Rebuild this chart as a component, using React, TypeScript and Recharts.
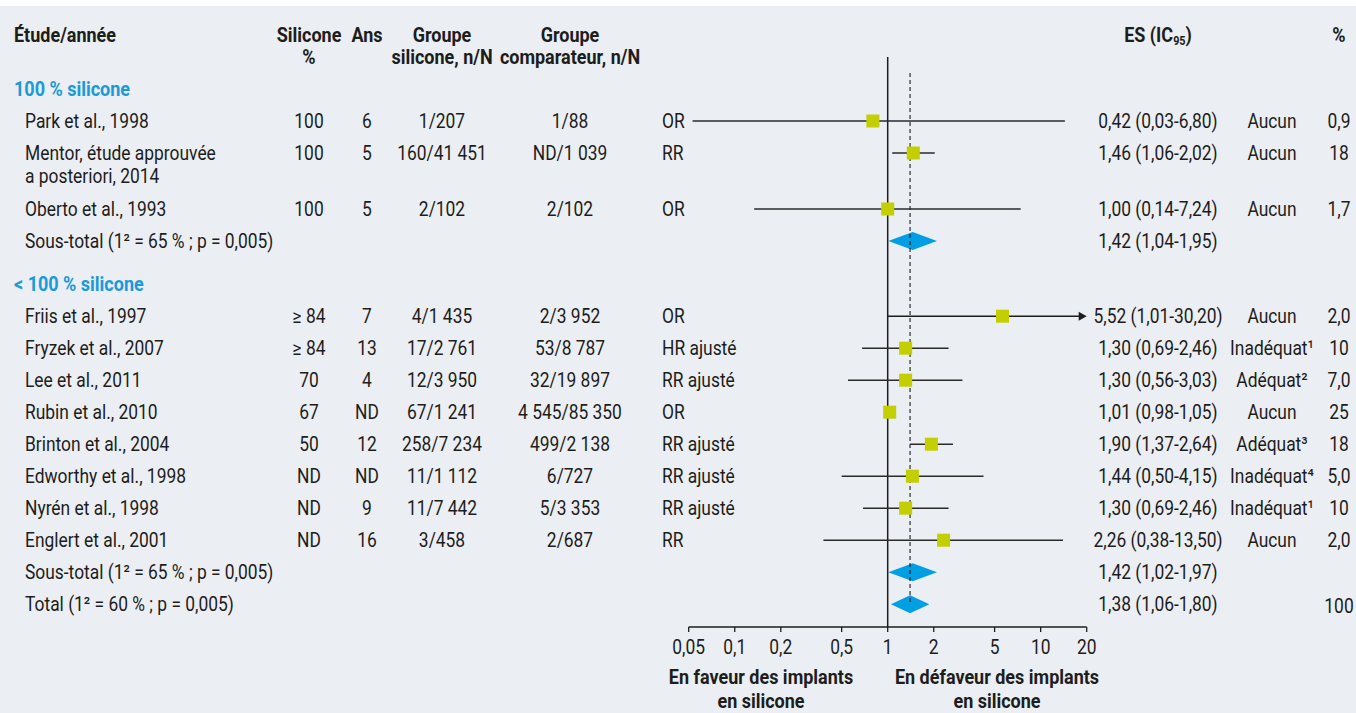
import React from "react";
import { ComposedChart, XAxis, YAxis, Scatter, ReferenceLine, ReferenceArea } from "recharts";

const W = 1356;
const H = 713;
const FONT = "Roboto, 'Liberation Sans', sans-serif";
const FS = 20;
const SX = 0.87; // police étroite simulée
const SX_BOLD = 0.9;
const INK = "#1d1d1b";
const BG = "#ebeef3";
const GREEN = "#c3cf00";
const BLUE = "#009fe3";
const TITLE_BLUE = "#1a9ad8";

// études
const studies = [
  "Park et al., 1998",
  "Mentor, étude approuvée\na posteriori, 2014",
  "Oberto et al., 1993",
  "Friis et al., 1997",
  "Fryzek et al., 2007",
  "Lee et al., 2011",
  "Rubin et al., 2010",
  "Brinton et al., 2004",
  "Edworthy et al., 1998",
  "Nyrén et al., 1998",
  "Englert et al., 2001",
];
const studyGroup = [0, 0, 0, 1, 1, 1, 1, 1, 1, 1, 1];
const siliconePct = ["100", "100", "100", "≥ 84", "≥ 84", "70", "67", "50", "ND", "ND", "ND"];
const years = ["6", "5", "5", "7", "13", "4", "ND", "12", "ND", "9", "16"];
const siliconeArm = ["1/207", "160/41 451", "2/102", "4/1 435", "17/2 761", "12/3 950", "67/1 241", "258/7 234", "11/1 112", "11/7 442", "3/458"];
const comparatorArm = ["1/88", "ND/1 039", "2/102", "2/3 952", "53/8 787", "32/19 897", "4 545/85 350", "499/2 138", "6/727", "5/3 353", "2/687"];
const measure = ["OR", "RR", "OR", "OR", "HR ajusté", "RR ajusté", "OR", "RR ajusté", "RR ajusté", "RR ajusté", "RR"];
const esText = [
  "0,42 (0,03-6,80)", "1,46 (1,06-2,02)", "1,00 (0,14-7,24)", "5,52 (1,01-30,20)", "1,30 (0,69-2,46)",
  "1,30 (0,56-3,03)", "1,01 (0,98-1,05)", "1,90 (1,37-2,64)", "1,44 (0,50-4,15)", "1,30 (0,69-2,46)", "2,26 (0,38-13,50)",
];
const adjustment = ["Aucun", "Aucun", "Aucun", "Aucun", "Inadéquat¹", "Adéquat²", "Aucun", "Adéquat³", "Inadéquat⁴", "Inadéquat¹", "Aucun"];
const weightText = ["0,9", "18", "1,7", "2,0", "10", "7,0", "25", "18", "5,0", "10", "2,0"];

// positions des marques telles que dessinées
const estimate = [0.8, 1.47, 1.0, 5.63, 1.31, 1.31, 1.03, 1.93, 1.45, 1.31, 2.32];
const ciLow = [0.053, 1.07, 0.134, 1.0, 0.68, 0.55, 0.98, 1.4, 0.5, 0.69, 0.38];
const ciHigh = [14.4, 2.03, 7.4, 20, 2.5, 3.08, 1.05, 2.67, 4.23, 2.5, 14.0];

const sectionTitles = ["100 % silicone", "< 100 % silicone"];
const pooledLabel = ["Sous-total (1² = 65 % ; p = 0,005)", "Sous-total (1² = 65 % ; p = 0,005)", "Total (1² = 60 % ; p = 0,005)"];
const pooledEsText = ["1,42 (1,04-1,95)", "1,42 (1,02-1,97)", "1,38 (1,06-1,80)"];
const pooledWeight = ["", "", "100"];
const pooledEst = [1.45, 1.45, 1.4];
const pooledLow = [1.01, 1.01, 1.05];
const pooledHigh = [2.1, 2.1, 1.87];

const xTicks = [0.05, 0.1, 0.2, 0.5, 1, 2, 5, 10, 20];

type Row = { kind: "section" | "study" | "pooled"; slot: number; i: number };

function buildRows(): Row[] {
  const rows: Row[] = [];
  let slot = 0;
  sectionTitles.forEach((_, g) => {
    if (g > 0) slot += 0.35;
    rows.push({ kind: "section", slot, i: g });
    slot += 1;
    studies.forEach((name, i) => {
      if (studyGroup[i] !== g) return;
      rows.push({ kind: "study", slot, i });
      slot += name.includes("\n") ? 1.75 : 1;
    });
    rows.push({ kind: "pooled", slot, i: g });
    slot += 1;
  });
  rows.push({ kind: "pooled", slot, i: 2 });
  return rows;
}

const rows = buildRows();
const slotOfStudy = (i: number) => rows.find((r) => r.kind === "study" && r.i === i)!.slot;
const slotOfPooled = (i: number) => rows.find((r) => r.kind === "pooled" && r.i === i)!.slot;

const COL = { study: 25, section: 14, sil: 309, ans: 367, sg: 442, cg: 570, type: 662, es: 1158, qual: 1272, w: 1339 };

function T({ x, y, anchor = "start", bold = false, fill = INK, size = FS, children }: any) {
  return (
    <text
      transform={`translate(${x},${y}) scale(${bold ? SX_BOLD : SX},1)`}
      textAnchor={anchor}
      fontFamily={FONT}
      fontSize={size}
      fontWeight={bold ? "bold" : "normal"}
      fill={fill}
    >
      {children}
    </text>
  );
}

function RowText(props: any) {
  const { cy, payload } = props;
  const r: Row = payload.row;
  const b = cy + 7;
  if (r.kind === "section") {
    return <T x={COL.section} y={b} bold fill={TITLE_BLUE}>{sectionTitles[r.i]}</T>;
  }
  if (r.kind === "pooled") {
    return (
      <g>
        <T x={COL.study} y={b}>{pooledLabel[r.i]}</T>
        <T x={COL.es} y={b} anchor="middle">{pooledEsText[r.i]}</T>
        <T x={COL.w} y={b + 2} anchor="middle">{pooledWeight[r.i]}</T>
      </g>
    );
  }
  const i = r.i;
  const lines = studies[i].split("\n");
  return (
    <g>
      {lines.map((l, k) => (
        <T key={k} x={COL.study} y={b + k * 23}>{l}</T>
      ))}
      <T x={COL.sil} y={b} anchor="middle">{siliconePct[i]}</T>
      <T x={COL.ans} y={b} anchor="middle">{years[i]}</T>
      <T x={COL.sg} y={b} anchor="middle">{siliconeArm[i]}</T>
      <T x={COL.cg} y={b} anchor="middle">{comparatorArm[i]}</T>
      <T x={COL.type} y={b}>{measure[i]}</T>
      <T x={COL.es} y={b} anchor="middle">{esText[i]}</T>
      <T x={COL.qual} y={b} anchor="middle">{adjustment[i]}</T>
      <T x={COL.w} y={b} anchor="middle">{weightText[i]}</T>
    </g>
  );
}

const Square = (p: any) => <rect x={p.cx - 6.5} y={p.cy - 6.5} width={13} height={13} fill={GREEN} />;

const Diamond = (p: any) => {
  const { x, y, width, height } = p;
  const cx = x + width / 2;
  const cy = y + height / 2;
  return <polygon points={`${x},${cy} ${cx},${y} ${x + width},${cy} ${cx},${y + height}`} fill={BLUE} />;
};

const ArrowLine = (p: any) => {
  const { x1, y1, x2, y2 } = p;
  return (
    <g>
      <line x1={x1} y1={y1} x2={x2 - 6} y2={y2} stroke={INK} strokeWidth={1.4} />
      <polygon points={`${x2},${y2} ${x2 - 8},${y2 - 4.5} ${x2 - 8},${y2 + 4.5}`} fill={INK} />
    </g>
  );
};

const XTick = (p: any) => (
  <T x={p.x} y={p.y + 20} anchor="middle">
    {String(p.payload.value).replace(".", ",")}
  </T>
);

export default function App() {
  const textData = rows.map((row) => ({ x: 1, y: row.slot, row }));
  const squareData = studies.map((_, i) => ({ x: estimate[i], y: slotOfStudy(i) }));
  const totalSlot = slotOfPooled(2);

  return (
    <div style={{ position: "absolute", left: 0, top: 0, width: W, height: H, background: "#fff" }}>
      <div style={{ position: "absolute", left: 0, top: 6, width: W, height: H - 6, background: BG }} />
      <div style={{ position: "absolute", left: 0, top: 0 }}>
        <ComposedChart width={W} height={H} margin={{ top: 9, right: 269.3, bottom: 56, left: 688.7 }}>
          <XAxis
            type="number"
            dataKey="x"
            scale="log"
            domain={[0.05, 20]}
            ticks={xTicks}
            interval={0}
            height={30}
            axisLine={{ stroke: INK, strokeWidth: 1.3 }}
            tickLine={{ stroke: INK, strokeWidth: 1.3 }}
            tickSize={5}
            tick={<XTick />}
          />
          <YAxis type="number" dataKey="y" domain={[-2.5, 16.8125]} reversed hide width={0} />

          <ReferenceLine segment={[{ x: 1, y: -1 }, { x: 1, y: 16.8125 }]} stroke={INK} strokeWidth={1.5} />
          <ReferenceLine
            segment={[{ x: pooledEst[2], y: -0.5 }, { x: pooledEst[2], y: totalSlot }]}
            stroke={INK}
            strokeWidth={1.1}
            strokeDasharray="4 3"
          />

          {studies.map((_, i) => (
            <ReferenceLine
              key={`ci-${i}`}
              segment={[{ x: ciLow[i], y: slotOfStudy(i) }, { x: ciHigh[i], y: slotOfStudy(i) }]}
              stroke="#2a2a2a"
              strokeWidth={1.4}
              shape={ciHigh[i] >= 20 ? <ArrowLine /> : undefined}
            />
          ))}

          {pooledEst.map((_, k) => (
            <ReferenceArea
              key={`pool-${k}`}
              x1={pooledLow[k]}
              x2={pooledHigh[k]}
              y1={slotOfPooled(k) - 0.28}
              y2={slotOfPooled(k) + 0.28}
              shape={<Diamond />}
            />
          ))}

          <Scatter data={squareData} shape={<Square />} isAnimationActive={false} />
          <Scatter data={textData} shape={<RowText />} isAnimationActive={false} />
        </ComposedChart>
      </div>
      <svg width={W} height={H} style={{ position: "absolute", left: 0, top: 0, pointerEvents: "none" }}>
        <T x={14} y={42} bold>Étude/année</T>
        <T x={COL.sil} y={42} anchor="middle" bold>Silicone</T>
        <T x={COL.sil} y={64} anchor="middle" bold>%</T>
        <T x={COL.ans} y={42} anchor="middle" bold>Ans</T>
        <T x={COL.sg} y={42} anchor="middle" bold>Groupe</T>
        <T x={COL.sg} y={64} anchor="middle" bold>silicone, n/N</T>
        <T x={COL.cg} y={42} anchor="middle" bold>Groupe</T>
        <T x={COL.cg} y={64} anchor="middle" bold>comparateur, n/N</T>
        <T x={COL.es} y={42} anchor="middle" bold>
          ES (IC<tspan fontSize={12} dy={3}>95</tspan>
          <tspan dy={-3}>)</tspan>
        </T>
        <T x={COL.w} y={42} anchor="middle" bold>%</T>
        <T x={761} y={684} anchor="middle" bold>En faveur des implants</T>
        <T x={761} y={708} anchor="middle" bold>en silicone</T>
        <T x={997} y={684} anchor="middle" bold>En défaveur des implants</T>
        <T x={997} y={708} anchor="middle" bold>en silicone</T>
      </svg>
    </div>
  );
}
